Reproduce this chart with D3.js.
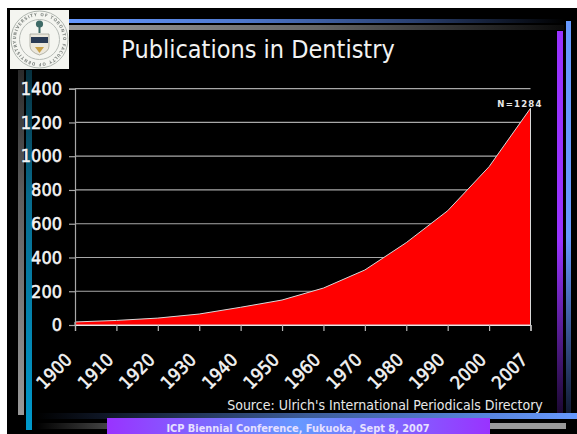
<!DOCTYPE html>
<html><head><meta charset="utf-8">
<script src="https://cdn.jsdelivr.net/npm/d3@7"></script>
<style>html,body{margin:0;padding:0;background:#fff;overflow:hidden}svg{display:block}text{font-family:"DejaVu Sans Condensed","DejaVu Sans",sans-serif;font-stretch:condensed}</style>
</head><body><svg id="c" width="577" height="434"></svg>
<script>
const years = ["1900","1910","1920","1930","1940","1950","1960","1970","1980","1990","2000","2007"];
const publications = [18,27,41,65,105,148,219,326,488,677,938,1284];
const yTicks = [0,200,400,600,800,1000,1200,1400];
const chartTitle = "Publications in Dentistry";
const sourceNote = "Source: Ulrich's International Periodicals Directory";
const footerText = "ICP Biennial Conference, Fukuoka, Sept 8, 2007";
const peakLabel = "N=1284";
const crestRing = "UNIVERSITY OF TORONTO  FACULTY OF DENTISTRY";

const svg = d3.select("#c");
const defs = svg.append("defs");
function grad(id, stops, vertical){
  const g = defs.append("linearGradient").attr("id",id).attr("x1",0).attr("y1",0)
    .attr("x2",vertical?0:1).attr("y2",vertical?1:0);
  stops.forEach(s=>g.append("stop").attr("offset",s[0]).attr("stop-color",s[1]));
}
grad("topBlue",[[0,"#6699ff"],[0.35,"#4f78cc"],[0.7,"#2a4070"],[1,"#000"]]);
grad("topGrey",[[0,"#999"],[0.5,"#666"],[1,"#0a0a0a"]]);
grad("rightPurple",[[0,"#9933ff"],[0.55,"#9933ff"],[1,"#1c0833"]],true);
grad("rightBlue",[[0,"#6699ff"],[0.55,"#6699ff"],[1,"#111a33"]],true);
grad("leftGrey",[[0,"#2a2a2a"],[0.35,"#5c5c5c"],[1,"#999"]],true);
grad("leftTeal",[[0,"#06303e"],[0.35,"#076a8c"],[1,"#0099cc"]],true);
grad("botBlue",[[0,"#000"],[0.5,"#3c5c99"],[1,"#6699ff"]]);
grad("botGrey",[[0,"#000"],[1,"#444"]]);
grad("footer",[[0,"#9933ff"],[0.5,"#6699ff"],[1,"#9933ff"]]);
defs.append("filter").attr("id","soft").append("feGaussianBlur").attr("stdDeviation",0.45);

// slide background and decorative rules
svg.append("rect").attr("x",7).attr("y",8).attr("width",570).attr("height",426).attr("fill","#000");
const rule=(x,y,w,h,f)=>svg.append("rect").attr("x",x).attr("y",y).attr("width",w).attr("height",h).attr("fill",f);
rule(69,19,495,4,"url(#topBlue)");
rule(69,25,495,5,"url(#topGrey)");
rule(557,31,6,382,"url(#rightPurple)");
rule(566,21,5,392,"url(#rightBlue)");
rule(18,70,6,345,"url(#leftGrey)");
rule(26,70,6,360,"url(#leftTeal)");
rule(36,413,541,6,"url(#botBlue)");
rule(36,423,72,6,"url(#botGrey)");
rule(490,423,76,6,"#999");
rule(107,418,383,16,"url(#footer)");

// crest placed in the corner
svg.append("rect").attr("x",10).attr("y",10).attr("width",59).attr("height",59).attr("fill","#f4f5f0");
const crest = svg.append("g").attr("filter","url(#soft)");
crest.append("circle").attr("cx",39.5).attr("cy",39.5).attr("r",28.5).attr("fill","none").attr("stroke","#aeb4ae").attr("stroke-width",1);
crest.append("circle").attr("cx",39.5).attr("cy",39.5).attr("r",20).attr("fill","none").attr("stroke","#b5bab5").attr("stroke-width",1);
defs.append("path").attr("id","ringPath").attr("d","M16 39.5a23.5 23.5 0 1 1 0 0.01");
crest.append("text").attr("font-size",4.4).attr("font-weight",700).attr("fill","#7f8581")
  .append("textPath").attr("href","#ringPath").attr("textLength",146).text(crestRing);
crest.append("path").attr("d","M30 34H49V46Q49 52 39.5 55Q30 52 30 46Z").attr("fill","#ece8dc").attr("stroke","#8b8b80").attr("stroke-width",.6);
crest.append("rect").attr("x",31).attr("y",37).attr("width",17).attr("height",6).attr("fill","#2b3a55");
crest.append("circle").attr("cx",39.5).attr("cy",24).attr("r",3.6).attr("fill","#3e6a66");
crest.append("rect").attr("x",38.5).attr("y",26).attr("width",2).attr("height",7).attr("fill","#3e6a66");
crest.append("path").attr("d","M35 47H44L39.5 53Z").attr("fill","#c9a14a");

svg.append("text").attr("x",258).attr("y",58).attr("text-anchor","middle")
  .attr("font-size",25).attr("fill","#f2f2f2").text(chartTitle);

// plot: categories sit on tick marks, area runs first to last tick
const x = d3.scalePoint().domain(years).range([75,530.5]);
const y = d3.scaleLinear().domain([0,1400]).range([325,88.7]);
const plot = svg.append("g");
plot.selectAll("line.grid").data(yTicks.slice(1)).join("line")
  .attr("x1",75).attr("x2",530.5).attr("y1",d=>y(d)).attr("y2",d=>y(d))
  .attr("stroke","#a8a8a8").attr("stroke-width",1.2);
const area = d3.area().x((d,i)=>x(years[i])).y0(y(0)).y1(d=>y(d));
plot.append("path").datum(publications).attr("d",area).attr("fill","#ff0000")
  .attr("stroke","#d8d8d8").attr("stroke-width",1);

const yAxis = d3.axisLeft(y).tickValues(yTicks).tickSize(6).tickPadding(7).tickFormat(d3.format("d"));
const gy = plot.append("g").attr("transform","translate(75,0)").call(yAxis);
const xAxis = d3.axisBottom(x).tickSize(6).tickFormat("");
const gx = plot.append("g").attr("transform",`translate(0,${y(0)})`).call(xAxis);
gy.selectAll("line,path").attr("stroke","#a8a8a8").attr("stroke-width",1.2);
gx.selectAll("line").attr("stroke","#b8b8b8").attr("stroke-width",1.2);
gx.select("path").attr("stroke","#e8e8e8").attr("stroke-width",1.2);
gy.selectAll("text").attr("fill","#f4f4f4").attr("font-size",18).attr("stroke","#f4f4f4").attr("stroke-width",.55);

plot.selectAll("text.yr").data(years).join("text").attr("class","yr")
  .attr("transform",d=>`translate(${x(d)-21},371) rotate(-45)`)
  .attr("text-anchor","middle").attr("dy","0.36em")
  .attr("font-size",18).attr("fill","#f4f4f4").attr("stroke","#f4f4f4").attr("stroke-width",.55).text(d=>d);

svg.append("text").attr("x",520).attr("y",107).attr("text-anchor","middle")
  .attr("font-size",9.5).attr("font-weight",700).attr("letter-spacing",1.2).attr("fill","#e8e8e8").text(peakLabel);
svg.append("text").attr("x",385).attr("y",410).attr("text-anchor","middle")
  .attr("font-size",14).attr("fill","#e8e8e8").text(sourceNote);
svg.append("text").attr("x",298).attr("y",432).attr("text-anchor","middle")
  .style("font-family","'DejaVu Sans'").style("font-stretch","normal")
  .attr("font-size",9.8).attr("font-weight",700).attr("fill","#e6e0ff").text(footerText);
</script></body></html>
